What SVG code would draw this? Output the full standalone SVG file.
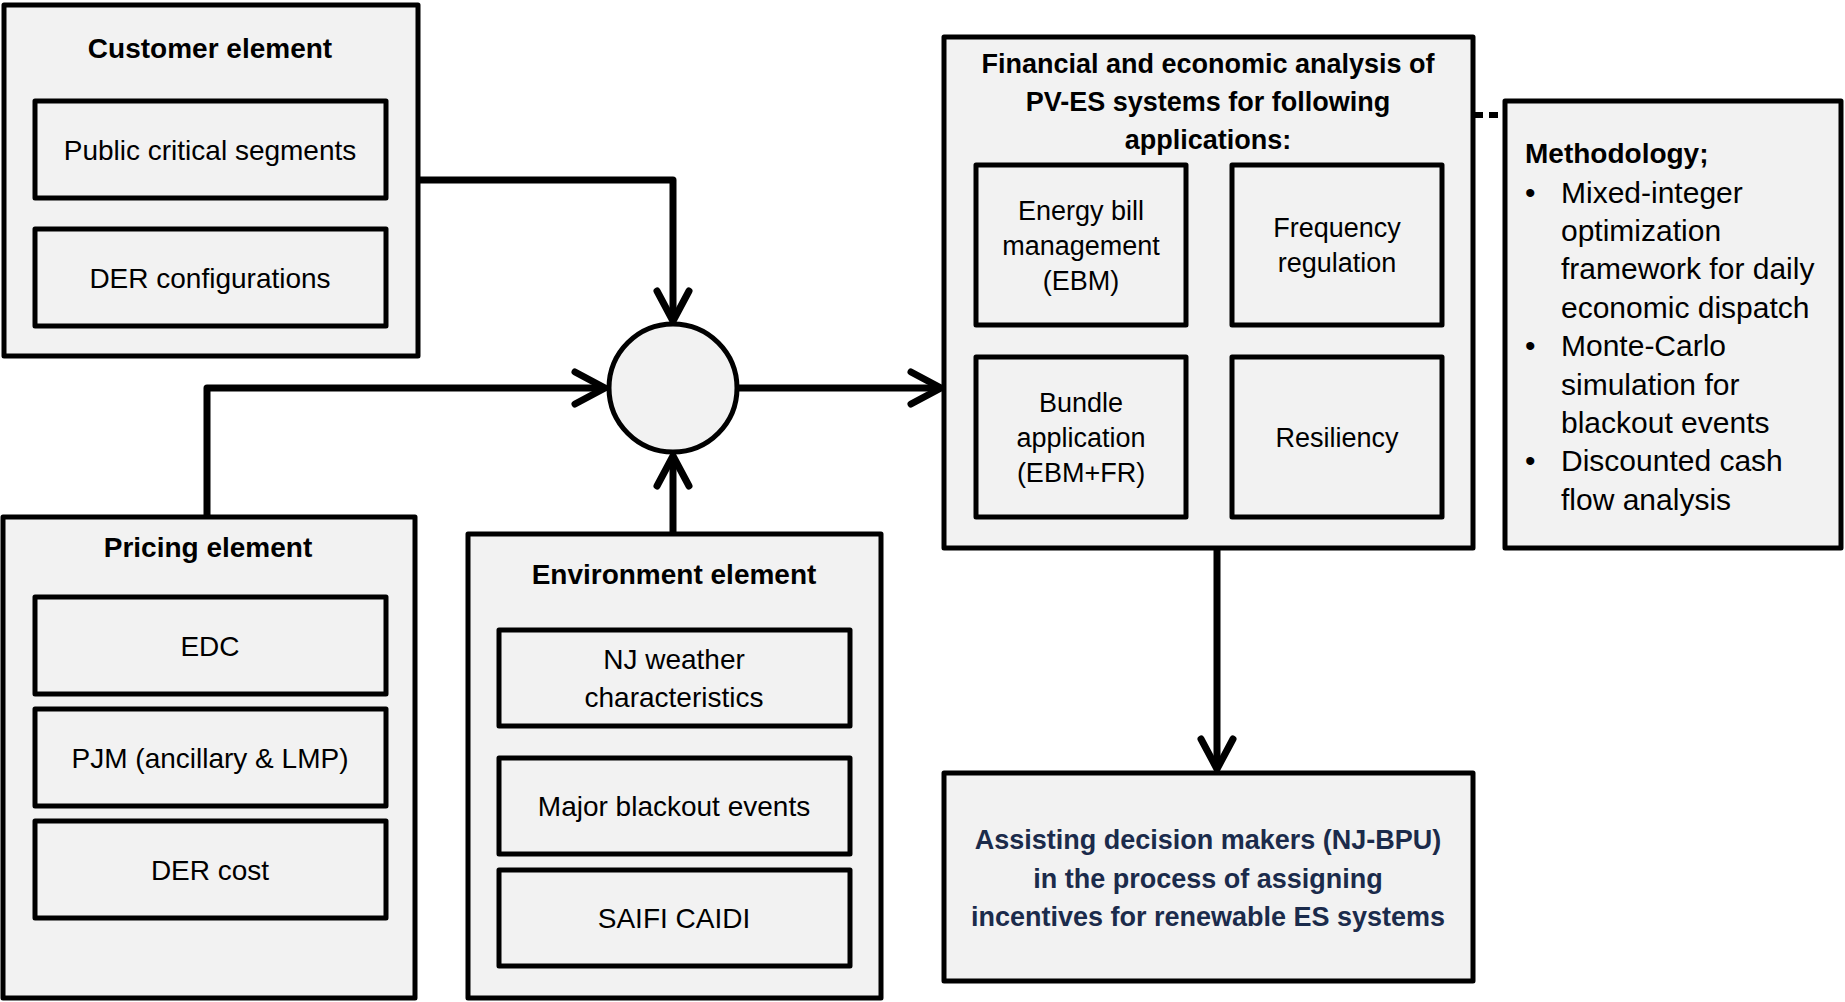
<svg xmlns="http://www.w3.org/2000/svg" width="1845" height="1002" viewBox="0 0 1845 1002">
<style>
.box{fill:#f2f2f2;stroke:#000;stroke-width:5;stroke-linejoin:round}
.in{fill:#f2f2f2;stroke:#000;stroke-width:5;stroke-linejoin:round}
.t{font-family:"Liberation Sans",Arial,sans-serif;fill:#000;text-anchor:middle;dominant-baseline:central}
.b{font-weight:bold;font-size:28px}
.r{font-size:28px}
.a{font-size:27px}
.m{font-family:"Liberation Sans",Arial,sans-serif;font-size:30px;fill:#000;dominant-baseline:central}
.d{font-family:"Liberation Sans",Arial,sans-serif;font-size:27px;font-weight:bold;fill:#1b2b4b;text-anchor:middle;dominant-baseline:central}
.c{fill:none;stroke:#000;stroke-width:7;stroke-linejoin:round;stroke-linecap:butt}
</style>
<defs>
<marker id="ah" markerUnits="userSpaceOnUse" viewBox="-38 -23 44 46" refX="0" refY="0" markerWidth="44" markerHeight="46" orient="auto">
<path d="M-30,-16 L0,0 L-30,16" fill="none" stroke="#000" stroke-width="7" stroke-linecap="round" stroke-linejoin="round"/>
</marker>
</defs>
<rect width="1845" height="1002" fill="#fff"/>

<g id="connectors">
<path class="c" d="M418,180 H673 V321" marker-end="url(#ah)"/>
<path class="c" d="M207,516 V388 H605" marker-end="url(#ah)"/>
<path class="c" d="M673,533 V456" marker-end="url(#ah)"/>
<path class="c" d="M738,388 H941" marker-end="url(#ah)"/>
<path class="c" d="M1217,548 V769" marker-end="url(#ah)"/>
<path d="M1474,115 H1505" fill="none" stroke="#000" stroke-width="6" stroke-dasharray="9 6"/>
</g>

<g id="customer">
<rect class="box" x="4" y="5" width="414" height="351"/>
<text class="t b" x="210" y="48">Customer element</text>
<rect class="in" x="35" y="101" width="351" height="97"/>
<text class="t r" x="210" y="150">Public critical segments</text>
<rect class="in" x="35" y="229" width="351" height="97"/>
<text class="t r" x="210" y="278">DER configurations</text>
</g>

<g id="junction">
<circle cx="673" cy="388" r="64" fill="#f2f2f2" stroke="#000" stroke-width="5"/>
</g>

<g id="pricing">
<rect class="box" x="3" y="517" width="412" height="481"/>
<text class="t b" x="208" y="547">Pricing element</text>
<rect class="in" x="35" y="597" width="351" height="97"/>
<text class="t r" x="210" y="646">EDC</text>
<rect class="in" x="35" y="709" width="351" height="97"/>
<text class="t r" x="210" y="758">PJM (ancillary &amp; LMP)</text>
<rect class="in" x="35" y="821" width="351" height="97"/>
<text class="t r" x="210" y="870">DER cost</text>
</g>

<g id="environment">
<rect class="box" x="468" y="534" width="413" height="464"/>
<text class="t b" x="674" y="574">Environment element</text>
<rect class="in" x="499" y="630" width="351" height="96"/>
<text class="t r" x="674" y="659">NJ weather</text>
<text class="t r" x="674" y="697">characteristics</text>
<rect class="in" x="499" y="758" width="351" height="96"/>
<text class="t r" x="674" y="806">Major blackout events</text>
<rect class="in" x="499" y="870" width="351" height="96"/>
<text class="t r" x="674" y="918">SAIFI CAIDI</text>
</g>

<g id="financial">
<rect class="box" x="944" y="37" width="529" height="511"/>
<text class="t b" x="1208" y="64" style="font-size:27px">Financial and economic analysis of</text>
<text class="t b" x="1208" y="102" style="font-size:27px">PV-ES systems for following</text>
<text class="t b" x="1208" y="140" style="font-size:27px">applications:</text>
<rect class="in" x="976" y="165" width="210" height="160"/>
<text class="t a" x="1081" y="211">Energy bill</text>
<text class="t a" x="1081" y="246">management</text>
<text class="t a" x="1081" y="281">(EBM)</text>
<rect class="in" x="1232" y="165" width="210" height="160"/>
<text class="t a" x="1337" y="228">Frequency</text>
<text class="t a" x="1337" y="263">regulation</text>
<rect class="in" x="976" y="357" width="210" height="160"/>
<text class="t a" x="1081" y="403">Bundle</text>
<text class="t a" x="1081" y="438">application</text>
<text class="t a" x="1081" y="473">(EBM+FR)</text>
<rect class="in" x="1232" y="357" width="210" height="160"/>
<text class="t a" x="1337" y="438">Resiliency</text>
</g>

<g id="methodology">
<rect class="box" x="1505" y="101" width="336" height="447"/>
<text class="m" x="1525" y="153" style="font-weight:bold;font-size:28px">Methodology;</text>
<text class="m" x="1525" y="192">•</text>
<text class="m" x="1561" y="192">Mixed-integer</text>
<text class="m" x="1561" y="230">optimization</text>
<text class="m" x="1561" y="268">framework for daily</text>
<text class="m" x="1561" y="307">economic dispatch</text>
<text class="m" x="1525" y="345">•</text>
<text class="m" x="1561" y="345">Monte-Carlo</text>
<text class="m" x="1561" y="384">simulation for</text>
<text class="m" x="1561" y="422">blackout events</text>
<text class="m" x="1525" y="460">•</text>
<text class="m" x="1561" y="460">Discounted cash</text>
<text class="m" x="1561" y="499">flow analysis</text>
</g>

<g id="decision">
<rect class="box" x="944" y="773" width="529" height="208"/>
<text class="d" x="1208" y="840">Assisting decision makers (NJ-BPU)</text>
<text class="d" x="1208" y="879">in the process of assigning</text>
<text class="d" x="1208" y="917">incentives for renewable ES systems</text>
</g>
</svg>
